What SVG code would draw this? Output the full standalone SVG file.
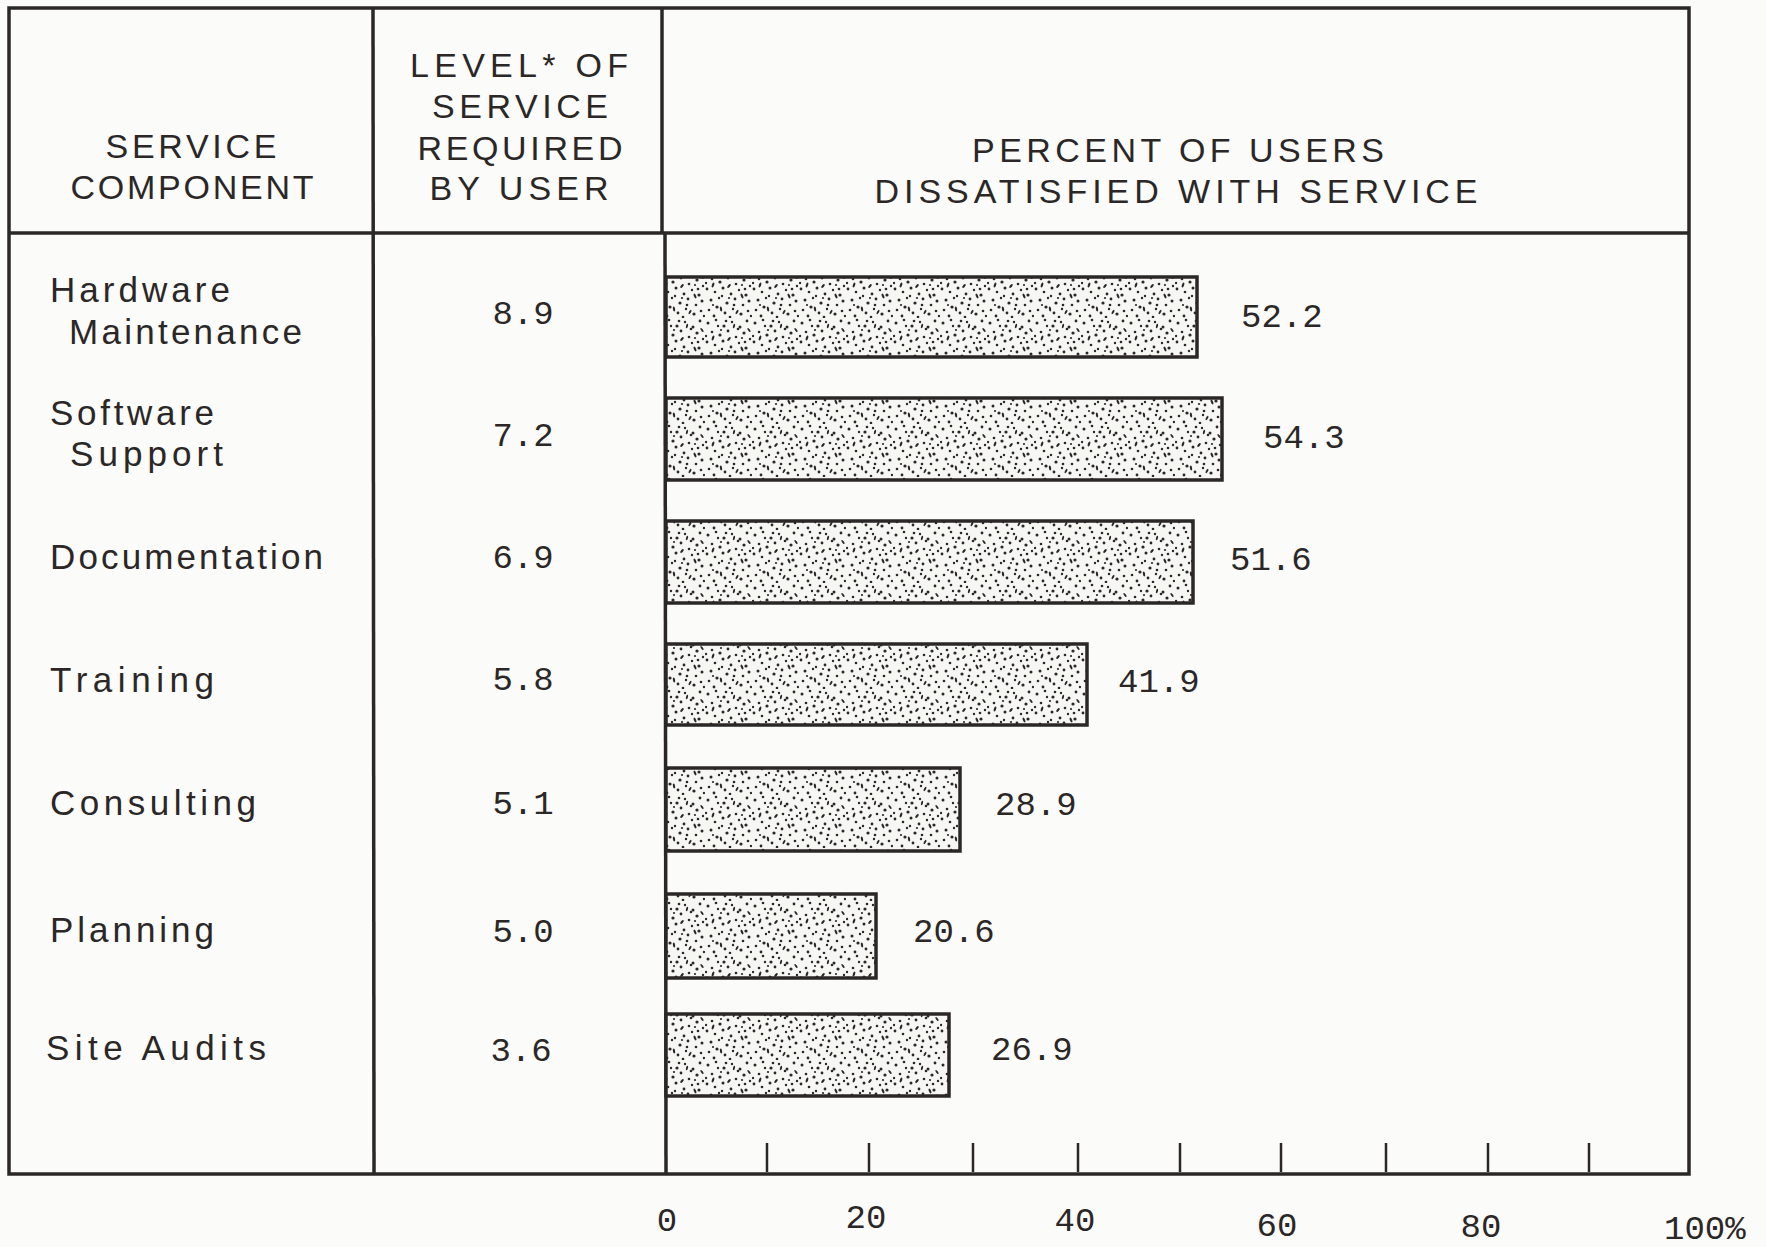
<svg xmlns="http://www.w3.org/2000/svg" width="1766" height="1247" viewBox="0 0 1766 1247">
<style>
.ln{stroke:#2b2727;stroke-width:3.5;fill:none}
.bar{stroke:#2b2727;stroke-width:3.5;fill:url(#stip)}
.hd{font-family:"Liberation Sans",Arial,sans-serif;font-size:34px;fill:#2b2727;text-anchor:middle}
.lb{font-family:"Liberation Sans",Arial,sans-serif;font-size:35px;fill:#2b2727}
.nm{font-family:"Liberation Mono","DejaVu Sans Mono",monospace;font-size:34px;fill:#2b2727}
.ct{text-anchor:middle}
</style>
<defs>
<pattern id="stip" patternUnits="userSpaceOnUse" width="47" height="53">
<rect width="47" height="53" fill="#f6f6f3"/>
<g fill="#2b2727">
<circle cx="3" cy="5" r="1.5"/><circle cx="11" cy="2" r="1.3"/><circle cx="19" cy="8" r="1.6"/><circle cx="27" cy="4" r="1.2"/><circle cx="35" cy="9" r="1.5"/><circle cx="42" cy="3" r="1.4"/>
<circle cx="7" cy="14" r="1.3"/><circle cx="15" cy="17" r="1.6"/><circle cx="23" cy="13" r="1.4"/><circle cx="31" cy="19" r="1.3"/><circle cx="39" cy="15" r="1.6"/><circle cx="45" cy="21" r="1.2"/>
<circle cx="2" cy="24" r="1.4"/><circle cx="10" cy="27" r="1.3"/><circle cx="18" cy="23" r="1.5"/><circle cx="26" cy="29" r="1.4"/><circle cx="34" cy="25" r="1.2"/><circle cx="41" cy="30" r="1.6"/>
<circle cx="6" cy="35" r="1.5"/><circle cx="14" cy="33" r="1.2"/><circle cx="22" cy="38" r="1.6"/><circle cx="30" cy="34" r="1.4"/><circle cx="38" cy="40" r="1.3"/><circle cx="44" cy="36" r="1.5"/>
<circle cx="4" cy="45" r="1.3"/><circle cx="12" cy="42" r="1.6"/><circle cx="20" cy="48" r="1.4"/><circle cx="28" cy="44" r="1.2"/><circle cx="36" cy="49" r="1.6"/><circle cx="43" cy="46" r="1.3"/>
<circle cx="9" cy="51" r="1.4"/><circle cx="25" cy="52" r="1.3"/><circle cx="17" cy="31" r="1.2"/><circle cx="33" cy="11" r="1.3"/><circle cx="1" cy="18" r="1.2"/><circle cx="40" cy="24" r="1.3"/>
<circle cx="13" cy="8" r="1.2"/><circle cx="29" cy="40" r="1.3"/><circle cx="46" cy="51" r="1.2"/><circle cx="21" cy="3" r="1.3"/>
<circle cx="24" cy="33" r="1.1"/><circle cx="8" cy="40" r="1.1"/><circle cx="37" cy="20" r="1.1"/><circle cx="16" cy="12" r="1.1"/>
<ellipse cx="8" cy="20" rx="1.1" ry="2.6" transform="rotate(20 8 20)"/><ellipse cx="37" cy="31" rx="1.1" ry="2.6" transform="rotate(-25 37 31)"/><ellipse cx="24" cy="21" rx="1.1" ry="2.4" transform="rotate(40 24 21)"/><ellipse cx="16" cy="44" rx="1.1" ry="2.6" transform="rotate(-10 16 44)"/><ellipse cx="32" cy="47" rx="1" ry="2.4" transform="rotate(30 32 47)"/><ellipse cx="44" cy="12" rx="1" ry="2.4" transform="rotate(-35 44 12)"/><ellipse cx="29" cy="8" rx="1" ry="2.3" transform="rotate(15 29 8)"/>
</g>
</pattern>
</defs>
<rect width="1766" height="1247" fill="#fbfbf9"/>

<g id="frame">
<rect class="ln" x="9" y="8" width="1680" height="1166"/>
<line class="ln" x1="9" y1="233" x2="1689" y2="233"/>
<line class="ln" x1="373" y1="8" x2="374" y2="1174"/>
<line class="ln" x1="662" y1="8" x2="662" y2="233"/>
<line class="ln" x1="665" y1="233" x2="666" y2="1174"/>
</g>

<g id="headers">
<text class="hd" x="191" y="158" textLength="171" lengthAdjust="spacing">SERVICE</text>
<text class="hd" x="192" y="199" textLength="243" lengthAdjust="spacing">COMPONENT</text>
<text class="hd" x="519" y="77" textLength="218" lengthAdjust="spacing">LEVEL* OF</text>
<text class="hd" x="520" y="118" textLength="176" lengthAdjust="spacing">SERVICE</text>
<text class="hd" x="520" y="160" textLength="205" lengthAdjust="spacing">REQUIRED</text>
<text class="hd" x="519" y="200" textLength="179" lengthAdjust="spacing">BY USER</text>
<text class="hd" x="1178" y="162" textLength="412" lengthAdjust="spacing">PERCENT OF USERS</text>
<text class="hd" x="1176" y="203" textLength="603" lengthAdjust="spacing">DISSATISFIED WITH SERVICE</text>
</g>

<g id="row-hardware">
<text class="lb" x="50" y="302" textLength="180" lengthAdjust="spacing">Hardware</text>
<text class="lb" x="69" y="344" textLength="233" lengthAdjust="spacing">Maintenance</text>
<text class="nm ct" x="523" y="324">8.9</text>
<rect class="bar" x="666" y="277" width="531" height="80"/>
<text class="nm" x="1241" y="327">52.2</text>
</g>
<g id="row-software">
<text class="lb" x="50" y="425" textLength="164" lengthAdjust="spacing">Software</text>
<text class="lb" x="70" y="466" textLength="153" lengthAdjust="spacing">Support</text>
<text class="nm ct" x="523" y="446">7.2</text>
<rect class="bar" x="666" y="398" width="556" height="82"/>
<text class="nm" x="1263" y="448">54.3</text>
</g>
<g id="row-documentation">
<text class="lb" x="50" y="569" textLength="273" lengthAdjust="spacing">Documentation</text>
<text class="nm ct" x="523" y="568">6.9</text>
<rect class="bar" x="666" y="521" width="527" height="82"/>
<text class="nm" x="1230" y="570">51.6</text>
</g>
<g id="row-training">
<text class="lb" x="50" y="692" textLength="164" lengthAdjust="spacing">Training</text>
<text class="nm ct" x="523" y="690">5.8</text>
<rect class="bar" x="666" y="644" width="421" height="81"/>
<text class="nm" x="1118" y="692">41.9</text>
</g>
<g id="row-consulting">
<text class="lb" x="50" y="815" textLength="206" lengthAdjust="spacing">Consulting</text>
<text class="nm ct" x="523" y="814">5.1</text>
<rect class="bar" x="666" y="768" width="294" height="83"/>
<text class="nm" x="995" y="815">28.9</text>
</g>
<g id="row-planning">
<text class="lb" x="50" y="942" textLength="164" lengthAdjust="spacing">Planning</text>
<text class="nm ct" x="523" y="942">5.0</text>
<rect class="bar" x="666" y="894" width="210" height="84"/>
<text class="nm" x="913" y="942">20.6</text>
</g>
<g id="row-site-audits">
<text class="lb" x="46" y="1060" textLength="220" lengthAdjust="spacing">Site Audits</text>
<text class="nm ct" x="521" y="1061">3.6</text>
<rect class="bar" x="666" y="1014" width="283" height="82"/>
<text class="nm" x="991" y="1060">26.9</text>
</g>

<g id="axis">
<g class="ln" style="stroke-width:2.5">
<line x1="767" y1="1143" x2="767" y2="1172"/>
<line x1="869" y1="1143" x2="869" y2="1172"/>
<line x1="973" y1="1143" x2="973" y2="1172"/>
<line x1="1078" y1="1143" x2="1078" y2="1172"/>
<line x1="1180" y1="1143" x2="1180" y2="1172"/>
<line x1="1281" y1="1143" x2="1281" y2="1172"/>
<line x1="1386" y1="1143" x2="1386" y2="1172"/>
<line x1="1488" y1="1143" x2="1488" y2="1172"/>
<line x1="1589" y1="1143" x2="1589" y2="1172"/>
</g>
<text class="nm ct" x="667" y="1231">0</text>
<text class="nm ct" x="866" y="1228">20</text>
<text class="nm ct" x="1075" y="1231">40</text>
<text class="nm ct" x="1277" y="1236">60</text>
<text class="nm ct" x="1481" y="1237">80</text>
<text class="nm" x="1664" y="1239">100%</text>
</g>
</svg>
